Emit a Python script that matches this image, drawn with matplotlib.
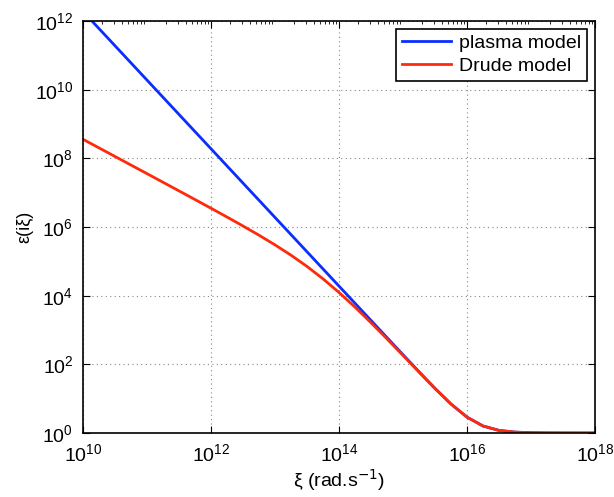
import numpy as np
import matplotlib.pyplot as plt
from matplotlib.ticker import LogLocator, NullFormatter

plt.rcParams['font.family'] = ['Liberation Sans', 'DejaVu Sans']

# angular frequency xi (rad/s), quarter-decade steps from 1e10 to 1e18
xi = [1e10, 1.778e10, 3.162e10, 5.623e10,
      1e11, 1.778e11, 3.162e11, 5.623e11,
      1e12, 1.778e12, 3.162e12, 5.623e12,
      1e13, 1.778e13, 3.162e13, 5.623e13,
      1e14, 1.778e14, 3.162e14, 5.623e14,
      1e15, 1.778e15, 3.162e15, 5.623e15,
      1e16, 1.778e16, 3.162e16, 5.623e16,
      1e17, 1.778e17, 3.162e17, 5.623e17,
      1e18]

# dielectric permittivity along the imaginary axis
eps_plasma = [1.90e12, 6.01e11, 1.90e11, 6.01e10,
              1.90e10, 6.01e9, 1.90e9, 6.01e8,
              1.90e8, 6.01e7, 1.90e7, 6.01e6,
              1.90e6, 6.01e5, 1.90e5, 6.01e4,
              1.90e4, 6010, 1901, 602,
              191, 61.1, 20.0, 7.01,
              2.90, 1.60, 1.19, 1.060,
              1.019, 1.006, 1.0019, 1.0006,
              1.0002]

eps_drude = [3.584e8, 2.016e8, 1.133e8, 6.369e7,
             3.578e7, 2.010e7, 1.127e7, 6.309e6,
             3.519e6, 1.951e6, 1.070e6, 5.764e5,
             3.016e5, 1.510e5, 7.101e4, 3.094e4,
             1.242e4, 4631, 1628.5, 550.2,
             181.4, 59.36, 19.69, 6.953,
             2.890, 1.599, 1.190, 1.060,
             1.019, 1.006, 1.0019, 1.0006,
             1.0002]

fig = plt.figure(figsize=(6.14, 4.97), dpi=100)
ax = fig.add_axes([83/614, 1 - 433/497, 512/614, 412/497])

ax.loglog(xi, eps_plasma, color='#0a2eff', lw=2, label='plasma model')
ax.loglog(xi, eps_drude, color='#ff2a0a', lw=2, label='Drude model')

ax.set_xlim(1e10, 1e18)
ax.set_ylim(1e0, 1e12)
ax.set_xticks([1e10, 1e12, 1e14, 1e16, 1e18])
ax.set_yticks([1e0, 1e2, 1e4, 1e6, 1e8, 1e10, 1e12])
ax.xaxis.set_minor_locator(LogLocator(base=10, subs=np.arange(2, 10), numticks=40))
ax.yaxis.set_minor_locator(LogLocator(base=10, subs=[1.0], numticks=40))
ax.xaxis.set_minor_formatter(NullFormatter())
ax.yaxis.set_minor_formatter(NullFormatter())

ax.grid(True, which='major', linestyle=(0, (1, 3)), color='#888888', lw=0.8)
ax.tick_params(which='both', direction='in', top=True, right=True, labelsize=14)
ax.tick_params(which='major', length=5, width=0.8)
ax.tick_params(axis='x', which='major', pad=7)
ax.tick_params(axis='y', which='major', pad=7)
ax.tick_params(which='minor', length=2.5, width=0.6, bottom=False, left=False, right=False)
for s in ax.spines.values():
    s.set_linewidth(1.2)

ax.set_xlabel(r'ξ (rad.s$^{-1}$)', fontsize=14, labelpad=2)
ax.set_ylabel('ε(iξ)', fontsize=13, labelpad=1)

leg = ax.legend(loc='upper right', fontsize=14, fancybox=False, framealpha=1,
                edgecolor='black', handlelength=2.5, borderaxespad=0.4,
                labelspacing=0.25, handletextpad=0.45, borderpad=0.3)
leg.get_frame().set_linewidth(1.2)

fig.savefig('out.png', dpi=100)
